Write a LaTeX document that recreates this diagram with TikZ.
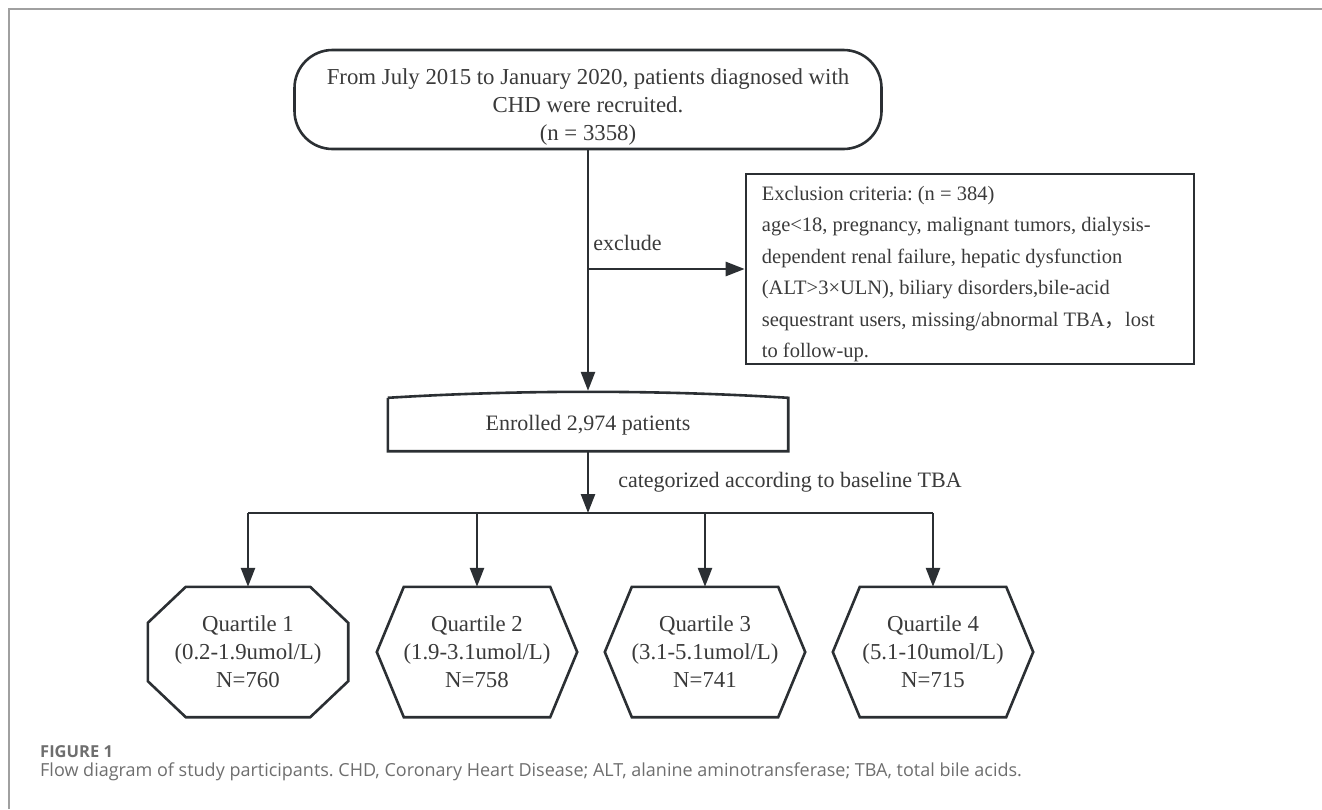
\documentclass[tikz,border=0pt]{standalone}
\usepackage{fontspec}
\setmainfont{Liberation Serif}
\newfontfamily\capfont{Open Sans}
\newfontfamily\cjk{Noto Sans CJK SC}
\usepackage{xcolor}
\usepackage{tikz}
\usetikzlibrary{arrows.meta,calc}
\definecolor{ink}{HTML}{2B2F33}
\definecolor{txt}{HTML}{3A3A3A}
\definecolor{capgray}{HTML}{6E6E6E}
\definecolor{rulegray}{HTML}{A0A0A0}
\newcommand\bodyfont{\fontsize{22.8}{28}\selectfont}
\newcommand\smallbody{\fontsize{22}{26.5}\selectfont}
\newcommand\exclfont{\fontsize{20.5}{26.5}\selectfont}
\frenchspacing

\begin{document}
\begin{tikzpicture}
      [
        x=1pt, y=-1pt,
        line/.style={draw=ink,line width=2.6pt},
        arr/.style={draw=ink,line width=2.6pt,-{Triangle[length=19pt,width=14pt]}},
        lbl/.style={text=txt,font=\smallbody,inner sep=0pt},
        box/.style={line,text=txt,font=\bodyfont,align=center,inner sep=0pt},
        quart/.style={text=txt,font=\bodyfont,align=center,minimum width=200pt,minimum height=130pt,inner sep=0pt},
        capt/.style={anchor=base west,inner sep=0pt,text=capgray}
      ]

      \useasboundingbox (0,0) rectangle (1322,809);
      \draw[rulegray,line width=1.5pt] (9,809) -- (9,9) -- (1322,9);

      \node[box,rounded corners=38pt,minimum width=587pt,minimum height=99pt] (Start) at (588,99.5)
        {\rule{0pt}{30pt}From July 2015 to January 2020, patients diagnosed with\\CHD were recruited.\\(n = 3358)};
      \node[box,minimum width=448pt,minimum height=190pt] (Excl) at (970,269) {};
      \node[lbl,align=left,font=\exclfont,anchor=west] (ExclText) at ($(Excl.west)+(17,5)$)
        {Exclusion criteria: (n = 384)\\[5pt]
         age<18, pregnancy, malignant tumors, dialysis-\\[5pt]
         dependent renal failure, hepatic dysfunction\\[5pt]
         (ALT>3×ULN), biliary disorders,bile-acid\\[5pt]
         sequestrant users, missing/abnormal TBA{\cjk ，}lost\\[5pt]
         to follow-up.};
      \node[lbl,minimum width=400pt,minimum height=60pt] (Enrol) at (588,421)
        {\rule{0pt}{23pt}Enrolled 2,974 patients};

      \node[quart] (Q1) at (248,652) {Quartile 1\\(0.2-1.9umol/L)\\N=760};
      \node[quart] (Q2) at (477,652) {Quartile 2\\(1.9-3.1umol/L)\\N=758};
      \node[quart] (Q3) at (705,652) {Quartile 3\\(3.1-5.1umol/L)\\N=741};
      \node[quart] (Q4) at (933,652) {Quartile 4\\(5.1-10umol/L)\\N=715};

      \draw[line] ($(Enrol.north west)+(0,7)$) -- (Enrol.south west) -- (Enrol.south east)
        -- ($(Enrol.north east)+(0,7)$)
        .. controls ($(Enrol.north east)+(-130,-1)$) and ($(Enrol.north west)+(130,-1)$) .. ($(Enrol.north west)+(0,7)$);
      \draw[line] ($(Q1.north west)+(38,0)$) -- ($(Q1.north east)+(-38,0)$) -- ($(Q1.north east)+(0,36)$)
        -- ($(Q1.south east)+(0,-36)$) -- ($(Q1.south east)+(-38,0)$) -- ($(Q1.south west)+(38,0)$)
        -- ($(Q1.south west)+(0,-36)$) -- ($(Q1.north west)+(0,36)$) -- cycle;
      \foreach \q in {Q2,Q3,Q4}
        \draw[line] ($(\q.north west)+(27,0)$) -- ($(\q.north east)+(-27,0)$) -- (\q.east)
          -- ($(\q.south east)+(-27,0)$) -- ($(\q.south west)+(27,0)$) -- (\q.west) -- cycle;

      \coordinate (Fork) at (588,513);
      \draw[arr] (Start.south) -- (Start.south |- Enrol.north);
      \draw[arr] (Start.south |- Excl.west) -- node[lbl,pos=0,anchor=base west,xshift=4pt,yshift=19pt] (Exclude) {exclude} (Excl.west);
      \draw[arr] (Enrol.south) -- node[lbl,anchor=west,xshift=29pt] (Cat) {categorized according to baseline TBA} (Fork);
      \draw[line] (Q1.north |- Fork) -- (Q4.north |- Fork);
      \foreach \q in {Q1,Q2,Q3,Q4}
        \draw[arr] (\q.north |- Fork) -- (\q.north);

      \node[capt,font=\capfont\bfseries\fontsize{16.5}{18}\selectfont] (FigNo) at (40,757) {FIGURE 1};
      \node[capt,font=\capfont\fontsize{18}{22}\selectfont] (Caption) at (40,776)
        {Flow diagram of study participants. CHD, Coronary Heart Disease; ALT, alanine aminotransferase; TBA, total bile acids.};
    \end{tikzpicture}
\end{document}
